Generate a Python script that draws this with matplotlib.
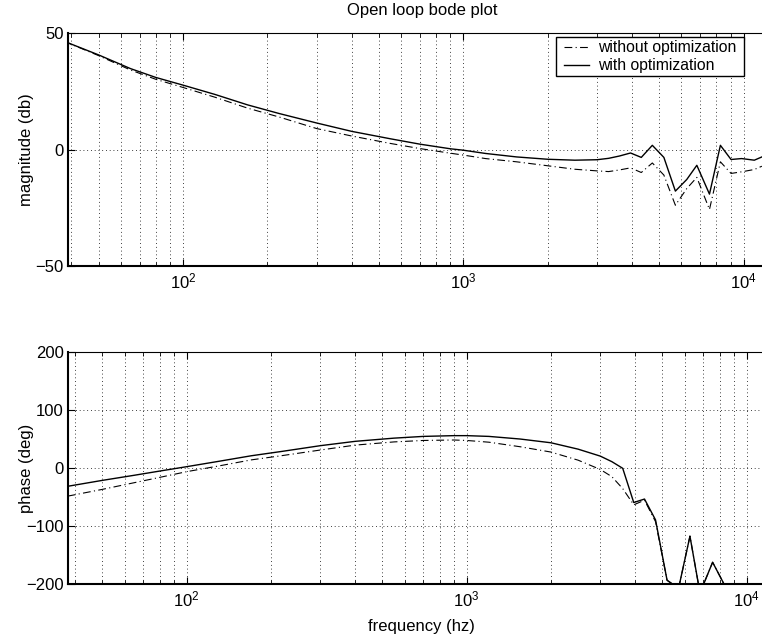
import numpy as np
import matplotlib
matplotlib.use("Agg")
import matplotlib.pyplot as plt
from matplotlib.patches import Rectangle
from matplotlib.ticker import LogLocator, FixedLocator, NullFormatter

# ---------------- data ----------------
freq_hz = [37.6, 50, 65, 80, 100, 130, 170, 220, 300, 400, 550, 700, 900, 1000,
           1200, 1550, 2000, 2500, 3000, 3300, 3607, 3950, 4315, 4725, 5195,
           5710, 6270, 6810, 7555, 8265, 9020, 9840, 10920, 11620]

mag_without_db = [46.6, 40.4, 34.2, 30.2, 26.7, 22.5, 17.8, 14.0, 9.0, 5.8, 2.6,
                  0.4, -1.6, -2.4, -3.9, -5.3, -7.0, -8.5, -9.2, -9.5, -8.8,
                  -7.9, -9.9, -5.8, -11.0, -24.0, -16.8, -12.0, -25.8, -5.3,
                  -10.3, -9.6, -8.6, -7.2]
mag_with_db = [46.6, 40.7, 34.8, 31.0, 27.7, 23.7, 19.2, 15.5, 11.4, 7.8, 4.6,
               2.3, 0.3, -0.3, -1.7, -3.2, -4.2, -4.6, -4.4, -3.8, -2.8,
               -1.5, -3.4, 1.8, -3.4, -17.9, -12.9, -6.8, -19.2, 1.8,
               -4.3, -3.9, -4.6, -3.2]

phase_without_deg = [-48, -36.3, -24.8, -15.7, -5.8, 4.0, 14.5, 22.0, 31.5, 40.0,
                     45.5, 48.0, 48.8, 48.0, 45.0, 37.2, 28.0, 14.0, -2.0, -14.5,
                     -35.0, -63.0, -55.0, -92.0, -193.0, -207.0, -117.0, -215.0,
                     -162.0, -198.0, -260.0, -280.0, -300.0, -310.0]
phase_with_deg = [-31.0, -20.8, -12.0, -4.8, 2.8, 12.0, 21.6, 29.3, 39.0, 46.5,
                  52.0, 55.0, 56.3, 56.3, 55.0, 50.5, 44.0, 33.0, 21.0, 11.4,
                  0.0, -59.0, -53.0, -89.0, -193.0, -207.0, -117.0, -215.0,
                  -162.0, -198.0, -260.0, -280.0, -300.0, -310.0]

mag_ticks = [-50, 0, 50]
phase_ticks = [-200, -100, 0, 100, 200]
title = "Open loop bode plot"
series_labels = ["without optimization", "with optimization"]

# ---------------- style ----------------
plt.rcParams['font.family'] = ['Liberation Sans', 'DejaVu Sans']
plt.rcParams['mathtext.default'] = 'regular'
FS = 12
LFS = 11.3

W, H = 762, 637
fig = plt.figure(figsize=(W / 100, H / 100), dpi=100)

def px_axes(x0, y0, x1, y1):
    return fig.add_axes([x0 / W, 1 - y1 / H, (x1 - x0) / W, (y1 - y0) / H])

ax1 = px_axes(67.7, 33.3, 776, 265.7)
ax2 = px_axes(67.7, 352.3, 776, 584.3)

dashdot = (0, (7, 3, 1, 3))
grid_style = dict(color='black', linestyle=(0, (1, 3.5)), linewidth=0.6)

def style_axes(ax, ylim, yticks, xlog0, xlog1):
    ax.set_xscale('log')
    ax.set_xlim(10 ** xlog0, 10 ** xlog1)
    ax.set_ylim(*ylim)
    ax.yaxis.set_major_locator(FixedLocator(yticks))
    ax.xaxis.set_major_locator(LogLocator(base=10))
    ax.xaxis.set_minor_locator(LogLocator(base=10, subs=np.arange(2, 10)))
    ax.xaxis.set_minor_formatter(NullFormatter())
    ax.tick_params(which='both', direction='in', top=True, right=False,
                   labelsize=FS, colors='black')
    ax.tick_params(axis='x', which='major', length=5, width=0.8, pad=4)
    ax.tick_params(axis='x', which='minor', length=3, width=0.6)
    ax.tick_params(axis='y', which='major', length=5, width=0.8, pad=3)
    ax.grid(True, which='major', axis='both', **grid_style)
    ax.grid(True, which='minor', axis='x', **grid_style)
    for s in ['left', 'bottom']:
        ax.spines[s].set_linewidth(1.5)
    ax.spines['top'].set_linewidth(0.8)
    ax.spines['right'].set_visible(False)

style_axes(ax1, (-50, 50), mag_ticks, 1.5887, 4.1156)
style_axes(ax2, (-200, 200), phase_ticks, 1.575, 4.1046)

l1, = ax1.plot(freq_hz, mag_without_db, color='black', linewidth=0.8, linestyle=dashdot)
l2, = ax1.plot(freq_hz, mag_with_db, color='black', linewidth=1.0, linestyle='-')
ax2.plot(freq_hz, phase_without_deg, color='black', linewidth=0.8, linestyle=dashdot)
ax2.plot(freq_hz, phase_with_deg, color='black', linewidth=1.0, linestyle='-')

ax1.set_title(title, fontsize=FS, pad=13)
ax1.set_ylabel("magnitude (db)", fontsize=FS)
ax2.set_ylabel("phase (deg)", fontsize=FS)
ax2.set_xlabel("frequency (hz)", fontsize=FS, labelpad=7)
ax1.yaxis.set_label_coords(34 / W, 1 - 149.5 / H, transform=fig.transFigure)
ax2.yaxis.set_label_coords(34 / W, 1 - 468.3 / H, transform=fig.transFigure)

# legend box (drawn separately so that its padding matches the reference)
box = Rectangle((555.7 / W, 1 - 76.0 / H), (744.3 - 555.7) / W, (76.0 - 36.7) / H,
                transform=fig.transFigure, facecolor='white', edgecolor='black',
                linewidth=1.0, zorder=4.5, clip_on=False)
ax1.add_artist(box)
leg = ax1.legend([l1, l2], series_labels, loc='center left',
                 bbox_to_anchor=(564.0 / W, 1 - 56.8 / H),
                 bbox_transform=fig.transFigure, borderaxespad=0,
                 frameon=False, fontsize=LFS, handlelength=1.6,
                 handletextpad=0.55, borderpad=0.0, labelspacing=0.2)
leg.set_zorder(5)

fig.savefig("out.png", dpi=100)
